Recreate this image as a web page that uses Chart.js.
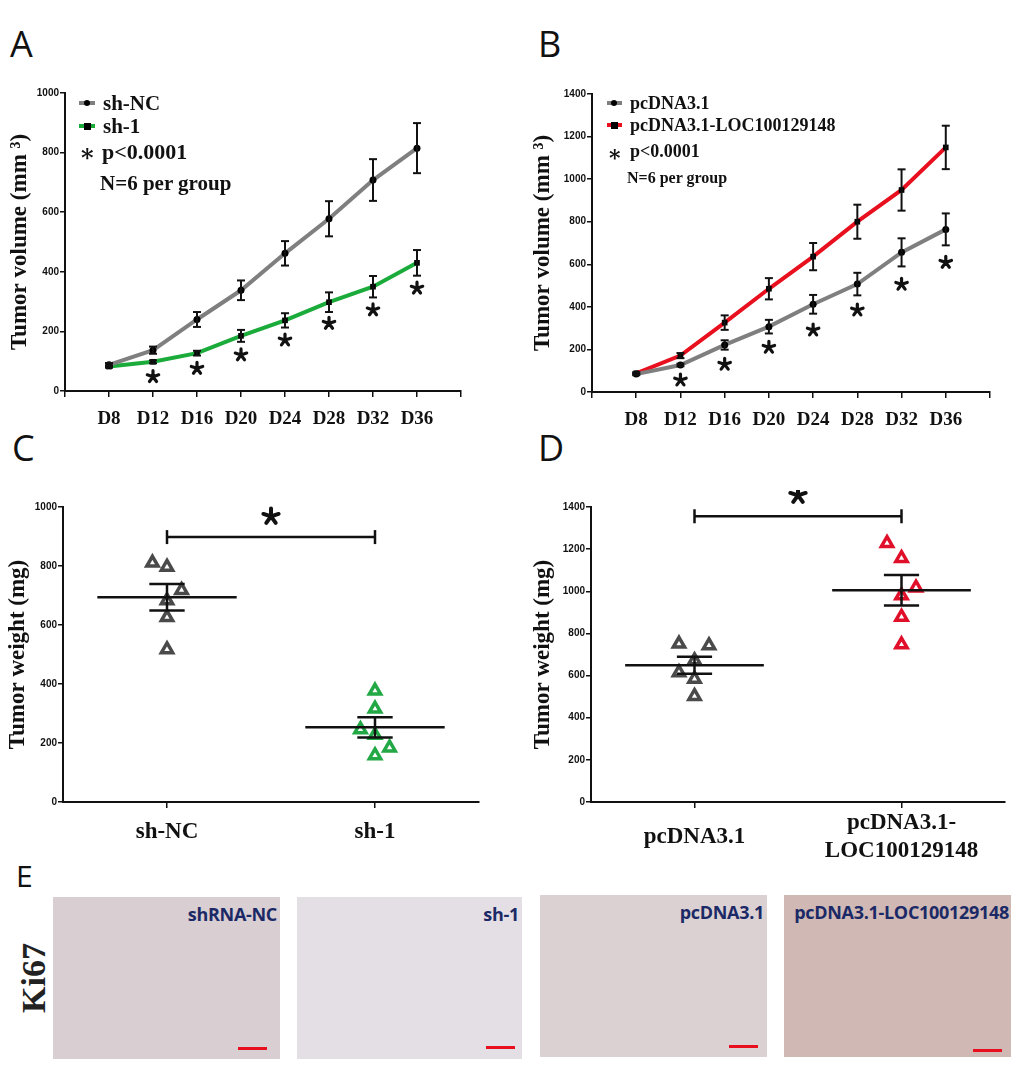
<!DOCTYPE html>
<html lang="en">
<head>
    <meta charset="UTF-8">
    <title>Tumor growth and weight</title>
    <script src="https://cdn.jsdelivr.net/npm/chart.js"></script>
    <style>
        body {
            margin: 0;
            background: #fff;
        }
        #page {
            position: relative;
            width: 1020px;
            height: 1068px;
            font-family: 'Liberation Serif', 'Times New Roman', serif;
            color: #111;
        }
        .abs {
            position: absolute;
            white-space: nowrap;
        }
        .letter {
            position: absolute;
            font-family: 'Open Sans', sans-serif;
            font-size: 36px;
            line-height: 40px;
            color: #111;
        }
        .leg {
            position: absolute;
            font-weight: bold;
            white-space: nowrap;
        }
        .star {
            font-family: 'DejaVu Serif', serif;
        }
        .swatch {
            position: absolute;
            height: 4px;
        }
        .dot {
            position: absolute;
            background: #000;
        }
        .tissue {
            position: absolute;
            height: 162px;
        }
        .tissue span {
            position: absolute;
            top: 5px;
            right: 3px;
            font-family: 'Open Sans', sans-serif;
            font-weight: bold;
            font-size: 18px;
            color: #1b2a66;
            letter-spacing: -0.3px;
        }
        .tissue i {
            position: absolute;
            width: 29px;
            height: 3px;
            background: #e8101e;
        }
    </style>
</head>
<body>
<div id="page">
    <div class="letter" style="left:10px; top:24px;">A</div>
    <div class="letter" style="left:538px; top:24px;">B</div>
    <div class="letter" style="left:12px; top:428px;">C</div>
    <div class="letter" style="left:538px; top:428px;">D</div>
    <div class="letter" style="left:16px; top:856px; font-size:30px;">E</div>

    <canvas id="chartA" class="abs" width="505" height="380" style="left:0; top:80px;"></canvas>
    <canvas id="chartB" class="abs" width="505" height="380" style="left:510px; top:80px;"></canvas>
    <canvas id="chartC" class="abs" width="505" height="380" style="left:0; top:490px;"></canvas>
    <canvas id="chartD" class="abs" width="505" height="380" style="left:510px; top:490px;"></canvas>

    <!-- legend A -->
    <div class="swatch" style="left:79px; top:101px; width:16px; background:#7f7f7f;"></div>
    <div class="dot" style="left:84px; top:100px; width:6px; height:6px; border-radius:3px;"></div>
    <div class="leg" style="left:103px; top:90px; font-size:21px; line-height:26px;">sh-NC</div>
    <div class="swatch" style="left:79px; top:124px; width:16px; background:#1aab3a;"></div>
    <div class="dot" style="left:84px; top:123px; width:7px; height:7px;"></div>
    <div class="leg" style="left:103px; top:113px; font-size:21px; line-height:26px;">sh-1</div>
    <div class="leg star" style="left:81px; top:145px; font-size:24px; line-height:26px;">*</div>
    <div class="leg" style="left:102px; top:139px; font-size:22px; line-height:26px;">p&lt;0.0001</div>
    <div class="leg" style="left:100px; top:170px; font-size:21px; line-height:26px;">N=6 per group</div>

    <!-- legend B -->
    <div class="swatch" style="left:607px; top:101px; width:15px; background:#7f7f7f;"></div>
    <div class="dot" style="left:611px; top:100px; width:6px; height:6px; border-radius:3px;"></div>
    <div class="leg" style="left:630px; top:92px; font-size:18px; line-height:22px;">pcDNA3.1</div>
    <div class="swatch" style="left:607px; top:123px; width:15px; background:#e8101e;"></div>
    <div class="dot" style="left:611px; top:122px; width:7px; height:7px;"></div>
    <div class="leg" style="left:630px; top:114px; font-size:18px; line-height:22px;">pcDNA3.1-LOC100129148</div>
    <div class="leg star" style="left:609px; top:145px; font-size:22px; line-height:24px;">*</div>
    <div class="leg" style="left:630px; top:140px; font-size:18px; line-height:22px;">p&lt;0.0001</div>
    <div class="leg" style="left:627px; top:168px; font-size:16px; line-height:20px;">N=6 per group</div>

    <!-- panel E -->
    <div class="abs" style="left:34px; top:978px; transform:translate(-50%,-50%) rotate(-90deg); font-size:34px; font-weight:bold; color:#222;">Ki67</div>
    <div class="tissue" style="left:53px; top:897px; width:227px; background:#d9ced1;"><span>shRNA-NC</span><i style="left:185px; top:150px;"></i></div>
    <div class="tissue" style="left:297px; top:897px; width:225px; background:#e4dfe4;"><span>sh-1</span><i style="left:189px; top:149px;"></i></div>
    <div class="tissue" style="left:540px; top:895px; width:227px; background:#dbd1d3;"><span>pcDNA3.1</span><i style="left:189px; top:150px;"></i></div>
    <div class="tissue" style="left:784px; top:895px; width:227px; background:#d0b8b5;"><span style="right:2px;">pcDNA3.1-LOC100129148</span><i style="left:189px; top:154px;"></i></div>
</div>

<script>
    // ---- growth curves (A, B) ----
    const days = [8, 12, 16, 20, 24, 28, 32, 36];
    const shNC = [88, 137, 240, 338, 462, 578, 708, 815];
    const shNCErr = [6, 12, 25, 33, 41, 59, 70, 84];
    const sh1 = [82, 98, 127, 185, 237, 298, 350, 430];
    const sh1Err = [4, 5, 8, 20, 24, 33, 36, 43];
    const starDays = [12, 16, 20, 24, 28, 32, 36];
    const starsA = [48, 76, 121, 171, 227, 272, 345];

    const pcDNA = [84, 127, 221, 307, 412, 507, 656, 764];
    const pcDNAErr = [5, 6, 22, 32, 44, 53, 66, 75];
    const pcLOC = [88, 171, 326, 485, 636, 800, 949, 1149];
    const pcLOCErr = [5, 12, 34, 50, 64, 80, 97, 102];
    const starsB = [56, 130, 210, 291, 385, 506, 609];

    // ---- tumour weights (C, D) ----
    const groupsC = ['sh-NC', 'sh-1'];
    const weightNC = [811, 797, 718, 683, 626, 517];
    const jitterNC = [-0.07, 0, 0.07, 0, 0, 0];
    const weightSh1 = [377, 316, 246, 227, 184, 158];
    const jitterSh1 = [0, 0, -0.07, 0, 0.07, 0];
    const meanC = [694, 253];
    const semC = [45, 34];
    const sigC = 898;
    const sigStarC = 968;

    const groupsD = ['pcDNA3.1', ['pcDNA3.1-', 'LOC100129148']];
    const weightPc = [751, 743, 672, 615, 584, 502];
    const jitterPc = [-0.075, 0.07, 0, -0.075, 0, 0];
    const weightLoc = [1228, 1157, 1017, 980, 878, 747];
    const jitterLoc = [-0.07, 0, 0.07, 0, 0, 0];
    const meanD = [649, 1005];
    const semD = [40, 72];
    const sigD = 1356;
    const sigStarD = 1455;

    const serif = "'Liberation Serif', 'Times New Roman', serif";
    const sans = "'Liberation Sans', Arial, sans-serif";
    const GRAY = '#7f7f7f', GREEN = '#1aab3a', RED = '#e8101e';

    // five-armed asterisk, like the bold Times one in the figure
    function asterisk(ctx, x, y, r, w) {
        ctx.save();
        ctx.lineWidth = w;
        ctx.lineCap = 'round';
        ctx.beginPath();
        for (let k = 0; k < 5; k++) {
            const a = -Math.PI / 2 + k * 2 * Math.PI / 5;
            ctx.moveTo(x, y);
            ctx.lineTo(x + r * Math.cos(a), y + r * Math.sin(a));
        }
        ctx.stroke();
        ctx.restore();
    }

    // error bars, mean/SEM lines, significance bars and asterisks
    const extras = {
        id: 'extras',
        afterDatasetsDraw(chart, args, o) {
            const ctx = chart.ctx, xs = chart.scales.x, ys = chart.scales.y;
            const px = v => xs.getPixelForValue(v), py = v => ys.getPixelForValue(v);
            const seg = (x1, y1, x2, y2) => { ctx.beginPath(); ctx.moveTo(x1, y1); ctx.lineTo(x2, y2); ctx.stroke(); };
            ctx.save();
            ctx.strokeStyle = '#111';
            ctx.fillStyle = '#111';

            (o.errorBars || []).forEach(b => {
                ctx.lineWidth = 2;
                b.x.forEach((xv, i) => {
                    const x = px(xv), lo = py(b.y[i] - b.err[i]), hi = py(b.y[i] + b.err[i]);
                    seg(x, lo, x, hi);
                    seg(x - 4, lo, x + 4, lo);
                    seg(x - 4, hi, x + 4, hi);
                });
            });

            (o.meanSem || []).forEach(m => {
                ctx.lineWidth = 2.5;
                m.mean.forEach((mv, i) => {
                    const c = i + 0.5;
                    seg(px(c - 0.335), py(mv), px(c + 0.335), py(mv));
                    seg(px(c), py(mv - m.sem[i]), px(c), py(mv + m.sem[i]));
                    seg(px(c - 0.085), py(mv - m.sem[i]), px(c + 0.085), py(mv - m.sem[i]));
                    seg(px(c - 0.085), py(mv + m.sem[i]), px(c + 0.085), py(mv + m.sem[i]));
                });
            });

            if (o.sig) {
                ctx.lineWidth = 2.5;
                const y = py(o.sig.y), x1 = px(0.5), x2 = px(1.5);
                seg(x1, y, x2, y);
                seg(x1, y - 7, x1, y + 7);
                seg(x2, y - 7, x2, y + 7);
                asterisk(ctx, px(1), py(o.sig.star), 8, 4);
            }

            (o.stars || []).forEach(s => {
                s.x.forEach((xv, i) => asterisk(ctx, px(xv), py(s.y[i]), 6, 3.2));
            });
            ctx.restore();
        }
    };
    Chart.register(extras);

    const tickFont = { family: sans, size: 10, weight: 'bold' };
    const axisGrid = { display: true, drawOnChartArea: false, tickLength: 5, color: '#111', lineWidth: 1.5 };
    const axisBorder = { display: true, color: '#111', width: 2 };

    function yAxis(max, width, title, titlePad) {
        return {
            type: 'linear', min: 0, max: max,
            ticks: { stepSize: 200, font: tickFont, color: '#111', padding: 1, callback: v => String(v) },
            grid: axisGrid, border: axisBorder,
            title: { display: true, text: title, color: '#111', font: { family: serif, size: 23, weight: 'bold' }, padding: { top: titlePad, bottom: 0 } },
            afterFit: s => { s.width = width; }
        };
    }

    function growthChart(id, series, stars, yMax, yWidth, titlePad, pad, xHeight) {
        return new Chart(document.getElementById(id), {
            type: 'line',
            data: {
                datasets: series.map(s => ({
                    data: days.map((d, i) => ({ x: d, y: s.values[i] })),
                    borderColor: s.color,
                    borderWidth: 4,
                    tension: 0,
                    pointStyle: s.marker,
                    pointRadius: s.marker === 'rect' ? 4 : 3.5,
                    pointBackgroundColor: '#000',
                    pointBorderColor: '#000',
                    pointBorderWidth: 0
                }))
            },
            options: {
                responsive: false,
                animation: false,
                layout: { padding: { top: pad.top, right: pad.right, left: 0, bottom: 0 } },
                plugins: {
                    legend: { display: false },
                    tooltip: { enabled: false },
                    extras: {
                        errorBars: series.map(s => ({ x: days, y: s.values, err: s.err })),
                        stars: [{ x: starDays, y: stars }]
                    }
                },
                scales: {
                    x: {
                        type: 'linear', min: 4, max: 40,
                        ticks: {
                            stepSize: 4, padding: 11, color: '#111',
                            font: { family: serif, size: 19, weight: 'bold' },
                            callback: v => (v === 4 || v === 40) ? '' : 'D' + v
                        },
                        grid: Object.assign({}, axisGrid, { tickLength: 6 }),
                        border: axisBorder,
                        afterFit: s => { s.height = xHeight; }
                    },
                    y: yAxis(yMax, yWidth, 'Tumor volume (mm ³)', titlePad)
                }
            }
        });
    }

    growthChart('chartA', [
        { values: shNC, err: shNCErr, color: GRAY, marker: 'circle' },
        { values: sh1, err: sh1Err, color: GREEN, marker: 'rect' }
    ], starsA, 1000, 65, 6, { top: 13, right: 44 }, 69);

    growthChart('chartB', [
        { values: pcDNA, err: pcDNAErr, color: GRAY, marker: 'circle' },
        { values: pcLOC, err: pcLOCErr, color: RED, marker: 'rect' }
    ], starsB, 1400, 82, 19, { top: 14, right: 25 }, 68);

    function weightChart(id, groups, sets, mean, sem, sig, sigStar, yMax, yWidth, titlePad, padRight, labelPad) {
        return new Chart(document.getElementById(id), {
            type: 'scatter',
            data: {
                datasets: sets.map((s, g) => ({
                    data: s.values.map((v, i) => ({ x: g + 0.5 + s.jitter[i], y: v })),
                    pointStyle: 'triangle',
                    pointRadius: 6.5,
                    pointBorderWidth: 3.5,
                    pointBorderColor: s.color,
                    pointBackgroundColor: '#fff'
                }))
            },
            options: {
                responsive: false,
                animation: false,
                layout: { padding: { top: 17, right: padRight, left: 0, bottom: 0 } },
                plugins: {
                    legend: { display: false },
                    tooltip: { enabled: false },
                    extras: {
                        meanSem: [{ mean: mean, sem: sem }],
                        sig: { y: sig, star: sigStar }
                    }
                },
                scales: {
                    x: {
                        type: 'linear', min: 0, max: 2,
                        afterBuildTicks: s => { s.ticks = [{ value: 0.5 }, { value: 1.5 }]; },
                        ticks: {
                            padding: labelPad, color: '#111', crossAlign: 'center',
                            font: { family: serif, size: 23, weight: 'bold' },
                            callback: v => groups[Math.round(v - 0.5)]
                        },
                        grid: Object.assign({}, axisGrid, { tickLength: 6 }),
                        border: axisBorder,
                        afterFit: s => { s.height = 68; }
                    },
                    y: yAxis(yMax, yWidth, 'Tumor weight (mg)', titlePad)
                }
            }
        });
    }

    weightChart('chartC', groupsC, [
        { values: weightNC, jitter: jitterNC, color: '#4a4a4a' },
        { values: weightSh1, jitter: jitterSh1, color: '#22a845' }
    ], meanC, semC, sigC, sigStarC, 1000, 63, 4, 26, 24);

    weightChart('chartD', groupsD, [
        { values: weightPc, jitter: jitterPc, color: '#4a4a4a' },
        { values: weightLoc, jitter: jitterLoc, color: '#e0102a' }
    ], meanD, semD, sigD, sigStarD, 1400, 81, 19, 10, 15);
</script>
</body>
</html>
